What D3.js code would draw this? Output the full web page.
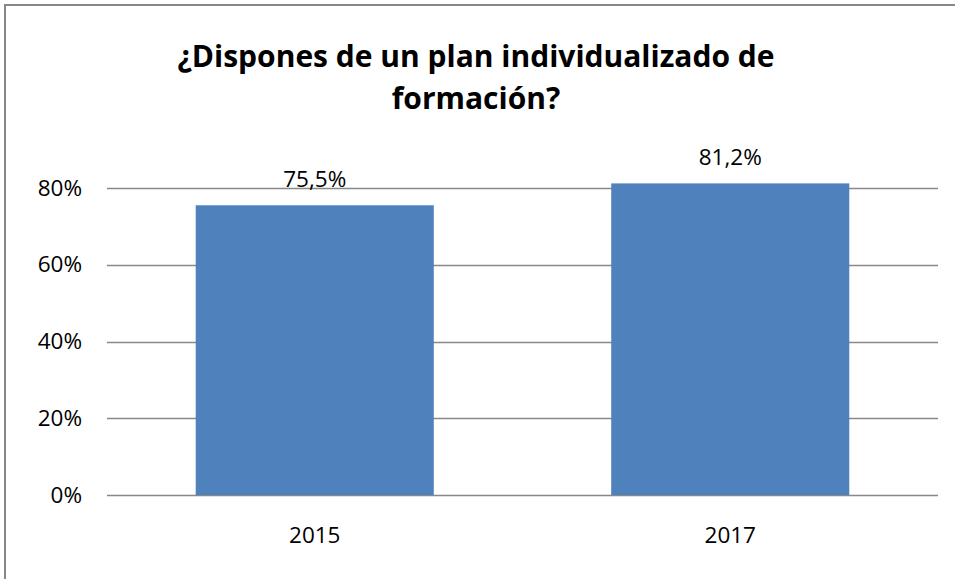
<!DOCTYPE html>
<html>
<head>
<meta charset="utf-8">
<script src="https://cdn.jsdelivr.net/npm/d3@7"></script>
<style>
  body { margin: 0; background: #fff; }
  text { font-family: "Open Sans", "Liberation Sans", sans-serif; fill: #000; }
</style>
</head>
<body>
<div id="chart"></div>
<script>
var years = ["2015", "2017"];
var values = [0.755, 0.812];
var valueLabels = ["75,5%", "81,2%"];
var yTicks = [0, 0.2, 0.4, 0.6, 0.8];
var titleLines = ["¿Dispones de un plan individualizado de", "formación?"];

var width = 955, height = 579;
var margin = {top: 188, left: 107, right: 17, bottom: 84};

var svg = d3.select("#chart")
  .append("svg")
  .attr("width", width)
  .attr("height", height);

// frame: only top and left edges are visible in the cropped picture
svg.append("path")
  .attr("d", "M5,579 L5,5 L955,5")
  .attr("fill", "none")
  .attr("stroke", "#878787")
  .attr("stroke-width", 2);

var xScale = d3.scaleBand()
  .domain(years)
  .range([margin.left, width - margin.right])
  .paddingInner(0.427)
  .paddingOuter(0.2135);

var yScale = d3.scaleLinear()
  .domain([0, 0.8])
  .range([height - margin.bottom, margin.top]);

// grid lines
svg.append("g")
  .selectAll("line")
  .data(yTicks)
  .enter()
  .append("line")
    .attr("x1", margin.left)
    .attr("x2", width - margin.right)
    .attr("y1", function(d) { return Math.round(yScale(d)) + 0.5; })
    .attr("y2", function(d) { return Math.round(yScale(d)) + 0.5; })
    .attr("stroke", "#888")
    .attr("stroke-width", 1.5);

var yAxis = svg.append("g")
  .attr("transform", `translate(${margin.left},0)`)
  .call(d3.axisLeft(yScale).tickValues(yTicks).tickSize(0).tickPadding(25)
    .tickFormat(function(d) { return Math.round(d * 100) + "%"; }));
yAxis.select(".domain").remove();
yAxis.selectAll("text").attr("font-size", 22.5).attr("font-family", "Open Sans, sans-serif");

var bars = svg.selectAll(".bar")
  .data(values)
  .enter()
  .append("rect")
    .attr("class", "bar")
    .attr("x", function(d, i) { return xScale(years[i]); })
    .attr("y", function(d) { return yScale(d); })
    .attr("width", xScale.bandwidth())
    .attr("height", function(d) { return yScale(0) - yScale(d); })
    .attr("fill", "#4f81bd");

svg.selectAll(".vlabel")
  .data(values)
  .enter()
  .append("text")
    .attr("class", "vlabel")
    .attr("x", function(d, i) { return xScale(years[i]) + xScale.bandwidth() / 2; })
    .attr("y", function(d) { return yScale(d) - 18; })
    .attr("text-anchor", "middle")
    .attr("font-size", 22.5)
    .text(function(d, i) { return valueLabels[i]; });

var xAxis = svg.append("g")
  .attr("transform", `translate(0,${height - margin.bottom})`)
  .call(d3.axisBottom(xScale).tickSize(0).tickPadding(32));
xAxis.select(".domain").remove();
xAxis.selectAll("text").attr("font-size", 22.5).attr("font-family", "Open Sans, sans-serif");

svg.selectAll(".title")
  .data(titleLines)
  .enter()
  .append("text")
    .attr("class", "title")
    .attr("x", 476)
    .attr("y", function(d, i) { return 67 + i * 42; })
    .attr("text-anchor", "middle")
    .attr("font-size", 30)
    .attr("font-weight", "bold")
    .text(function(d) { return d; });
</script>
</body>
</html>
